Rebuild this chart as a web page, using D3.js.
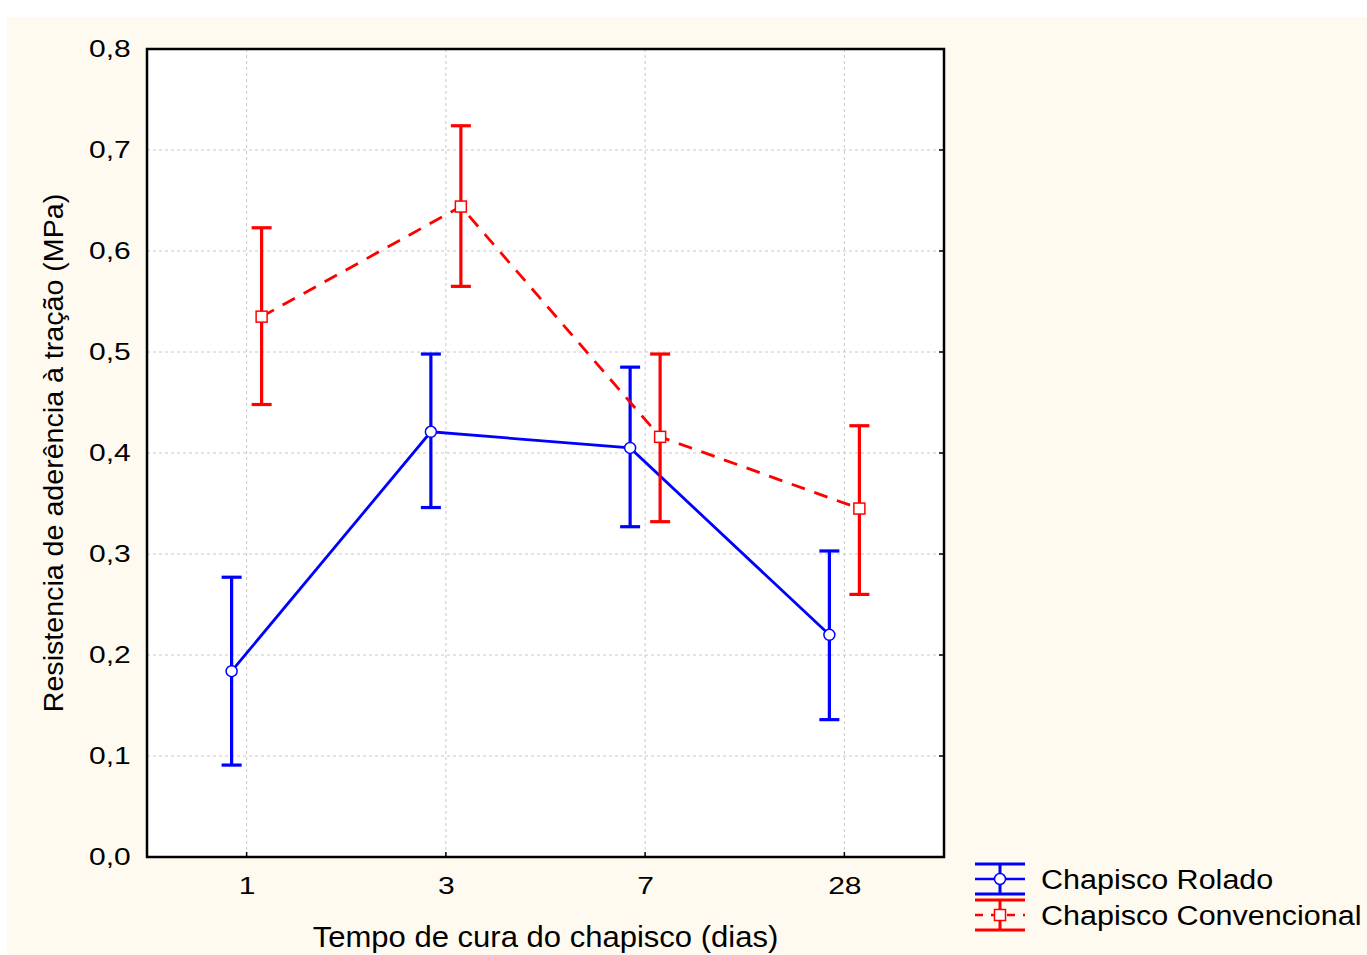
<!DOCTYPE html>
<html>
<head>
<meta charset="utf-8">
<script src="https://cdn.jsdelivr.net/npm/d3@7"></script>
<style>
  body { margin: 0; background: #ffffff; }
  svg { display: block; font-family: "Liberation Sans", Arial, sans-serif; }
</style>
</head>
<body>
<div id="chart"></div>
<script>
// Categories and values
const days = ["1", "3", "7", "28"]
const rolado = [0.184, 0.421, 0.405, 0.220]
const roladoLow = [0.091, 0.346, 0.327, 0.136]
const roladoHigh = [0.277, 0.498, 0.485, 0.303]
const convencional = [0.535, 0.644, 0.416, 0.345]
const convLow = [0.448, 0.565, 0.332, 0.260]
const convHigh = [0.623, 0.724, 0.498, 0.427]
const yTicks = [0, 0.1, 0.2, 0.3, 0.4, 0.5, 0.6, 0.7, 0.8]

const width = 1367, height = 955
const plot = { left: 147, right: 944, top: 49, bottom: 857 }

const svg = d3.select("#chart").append("svg")
    .attr("width", width)
    .attr("height", height)

// Cream panel
svg.append("rect")
    .attr("x", 7).attr("y", 17)
    .attr("width", width - 7).attr("height", height - 17)
    .attr("fill", "#fffaf0")

// Plot background
svg.append("rect")
    .attr("x", plot.left).attr("y", plot.top)
    .attr("width", plot.right - plot.left).attr("height", plot.bottom - plot.top)
    .attr("fill", "#ffffff")

const xScale = d3.scalePoint()
    .domain(days)
    .range([plot.left, plot.right])
    .padding(0.5)

const yScale = d3.scaleLinear()
    .domain([0, 0.8])
    .range([plot.bottom, plot.top])

// Grid lines
svg.append("g").selectAll("line")
    .data(yTicks.slice(1, -1))
    .enter().append("line")
    .attr("x1", plot.left).attr("x2", plot.right)
    .attr("y1", d => yScale(d)).attr("y2", d => yScale(d))
    .attr("stroke", "#c8c8c8").attr("stroke-width", 1)
    .attr("stroke-dasharray", "3,3")

svg.append("g").selectAll("line")
    .data(days)
    .enter().append("line")
    .attr("x1", d => xScale(d)).attr("x2", d => xScale(d))
    .attr("y1", plot.top).attr("y2", plot.bottom)
    .attr("stroke", "#c8c8c8").attr("stroke-width", 1)
    .attr("stroke-dasharray", "3,3")

// Axes (the original font is a bit wider, so labels get stretched horizontally)
const fmt = d => d3.format(".1f")(d).replace(".", ",")
const yAxis = d3.axisLeft(yScale).tickValues(yTicks).tickFormat(fmt).tickSize(0).tickPadding(13)
const xAxis = d3.axisBottom(xScale).tickSize(0).tickPadding(20)

const gy = svg.append("g")
    .attr("transform", `translate(${plot.left},0)`)
    .call(yAxis)
gy.select(".domain").remove()
gy.selectAll("text").attr("font-size", 24).attr("fill", "#000")
    .attr("transform", "scale(1.25,1)")

const gx = svg.append("g")
    .attr("transform", `translate(0,${plot.bottom})`)
    .call(xAxis)
gx.select(".domain").remove()
gx.selectAll("text").attr("font-size", 24).attr("fill", "#000").attr("dy", "0.72em")
    .attr("transform", "scale(1.25,1)")

// Small inner ticks on the right and bottom frame
svg.append("g").selectAll("line")
    .data(yTicks.slice(1, -1))
    .enter().append("line")
    .attr("x1", plot.right - 5).attr("x2", plot.right)
    .attr("y1", d => yScale(d)).attr("y2", d => yScale(d))
    .attr("stroke", "#000").attr("stroke-width", 1.5)
svg.append("g").selectAll("line")
    .data(days)
    .enter().append("line")
    .attr("x1", d => xScale(d)).attr("x2", d => xScale(d))
    .attr("y1", plot.bottom - 5).attr("y2", plot.bottom)
    .attr("stroke", "#000").attr("stroke-width", 1.5)

// Frame
svg.append("rect")
    .attr("x", plot.left).attr("y", plot.top)
    .attr("width", plot.right - plot.left).attr("height", plot.bottom - plot.top)
    .attr("fill", "none").attr("stroke", "#000").attr("stroke-width", 2.5)

// Axis titles
const xMid = (plot.left + plot.right) / 2
svg.append("text")
    .attr("transform", `translate(${xMid},947) scale(1.07,1)`)
    .attr("text-anchor", "middle")
    .attr("font-size", 29)
    .attr("fill", "#000")
    .text("Tempo de cura do chapisco (dias)")

svg.append("text")
    .attr("transform", "translate(63,453) rotate(-90) scale(1.06,1)")
    .attr("text-anchor", "middle")
    .attr("font-size", 27)
    .attr("fill", "#000")
    .text("Resistencia de aderência à tração (MPa)")

// Series
const series = [
    { name: "Chapisco Rolado", color: "#0000ff", offset: -15, vals: rolado, lo: roladoLow, hi: roladoHigh, dash: null, marker: "circle" },
    { name: "Chapisco Convencional", color: "#ff0000", offset: 15, vals: convencional, lo: convLow, hi: convHigh, dash: "14,10", marker: "square" }
]
const cap = 10

series.forEach(s => {
    const pts = days.map((d, i) => ({ x: xScale(d) + s.offset, v: s.vals[i], lo: s.lo[i], hi: s.hi[i] }))
    const g = svg.append("g")

    g.append("path")
        .datum(pts)
        .attr("d", d3.line().x(d => d.x).y(d => yScale(d.v)))
        .attr("fill", "none")
        .attr("stroke", s.color)
        .attr("stroke-width", 2.8)
        .attr("stroke-dasharray", s.dash)

    const eb = g.selectAll(".eb").data(pts).enter().append("g")
    eb.append("line")
        .attr("x1", d => d.x).attr("x2", d => d.x)
        .attr("y1", d => yScale(d.lo)).attr("y2", d => yScale(d.hi))
        .attr("stroke", s.color).attr("stroke-width", 3.2)
    eb.append("line")
        .attr("x1", d => d.x - cap).attr("x2", d => d.x + cap)
        .attr("y1", d => yScale(d.hi)).attr("y2", d => yScale(d.hi))
        .attr("stroke", s.color).attr("stroke-width", 3.2)
    eb.append("line")
        .attr("x1", d => d.x - cap).attr("x2", d => d.x + cap)
        .attr("y1", d => yScale(d.lo)).attr("y2", d => yScale(d.lo))
        .attr("stroke", s.color).attr("stroke-width", 3.2)

    if (s.marker === "circle") {
        g.selectAll(".m").data(pts).enter().append("circle")
            .attr("cx", d => d.x).attr("cy", d => yScale(d.v))
            .attr("r", 5.5)
            .attr("fill", "#fff").attr("stroke", s.color).attr("stroke-width", 1.5)
    } else {
        g.selectAll(".m").data(pts).enter().append("rect")
            .attr("x", d => d.x - 5.5).attr("y", d => yScale(d.v) - 5.5)
            .attr("width", 11).attr("height", 11)
            .attr("fill", "#fff").attr("stroke", s.color).attr("stroke-width", 1.5)
    }
})

// Legend
const legend = svg.append("g").attr("transform", "translate(975,879)")
series.forEach((s, i) => {
    const g = legend.append("g").attr("transform", `translate(0,${i * 36})`)
    g.append("line").attr("x1", 0).attr("x2", 50).attr("y1", -15).attr("y2", -15)
        .attr("stroke", s.color).attr("stroke-width", 3)
    g.append("line").attr("x1", 0).attr("x2", 50).attr("y1", 15).attr("y2", 15)
        .attr("stroke", s.color).attr("stroke-width", 3)
    g.append("line").attr("x1", 25).attr("x2", 25).attr("y1", -15).attr("y2", 15)
        .attr("stroke", s.color).attr("stroke-width", 3)
    g.append("line").attr("x1", 0).attr("x2", 50).attr("y1", 0).attr("y2", 0)
        .attr("stroke", s.color).attr("stroke-width", 2.5)
        .attr("stroke-dasharray", s.dash ? "8,8" : null)
    if (s.marker === "circle") {
        g.append("circle").attr("cx", 25).attr("cy", 0).attr("r", 5.5)
            .attr("fill", "#fff").attr("stroke", s.color).attr("stroke-width", 1.5)
    } else {
        g.append("rect").attr("x", 19.5).attr("y", -5.5).attr("width", 11).attr("height", 11)
            .attr("fill", "#fff").attr("stroke", s.color).attr("stroke-width", 1.5)
    }
    g.append("text")
        .attr("transform", "translate(66,0) scale(1.09,1)")
        .attr("dy", "0.35em")
        .attr("font-size", 28).attr("fill", "#000")
        .text(s.name)
})
</script>
</body>
</html>
